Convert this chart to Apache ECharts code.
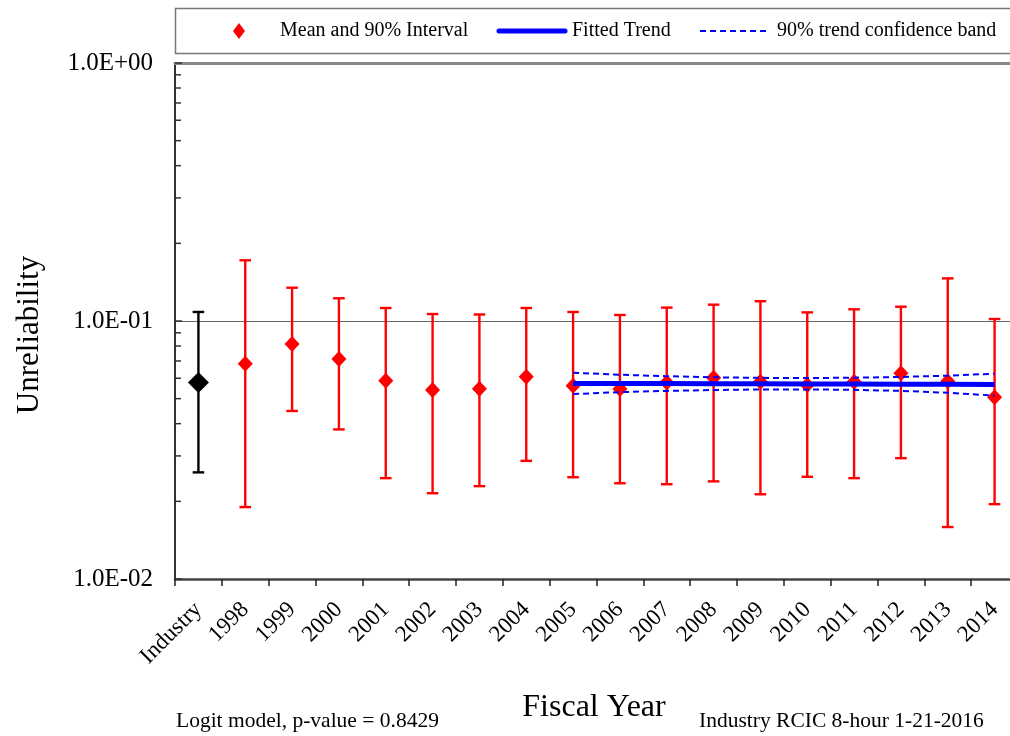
<!DOCTYPE html>
<html>
<head>
<meta charset="utf-8">
<script src="https://cdn.jsdelivr.net/npm/echarts@6.0.0/dist/echarts.min.js"></script>
<style>
  html, body { margin: 0; padding: 0; background: #fff; }
  #chart { width: 1010px; height: 736px; }
</style>
</head>
<body>
<div id="chart"></div>
<script>
// ---- Data ----
const categories = ['Industry', '1998', '1999', '2000', '2001', '2002', '2003', '2004', '2005',
  '2006', '2007', '2008', '2009', '2010', '2011', '2012', '2013', '2014'];
const means = [0.0577, 0.0683, 0.0815, 0.0713, 0.0587, 0.0540, 0.0546, 0.0608, 0.0561,
  0.0545, 0.0577, 0.0603, 0.0582, 0.0565, 0.0582, 0.0627, 0.0584, 0.0506];
const lower = [0.0259, 0.0190, 0.0448, 0.0380, 0.0246, 0.0215, 0.0229, 0.0287, 0.0248,
  0.0235, 0.0233, 0.0239, 0.0213, 0.0249, 0.0246, 0.0294, 0.0159, 0.0195];
const upper = [0.1084, 0.1719, 0.1346, 0.1225, 0.1123, 0.1064, 0.1060, 0.1123, 0.1084,
  0.1055, 0.1127, 0.1157, 0.1193, 0.1080, 0.1110, 0.1136, 0.1463, 0.1018];
const trendYears = ['2005', '2006', '2007', '2008', '2009', '2010', '2011', '2012', '2013', '2014'];
const fitted = [0.0573, 0.0572, 0.0572, 0.0571, 0.0571, 0.0570, 0.0570, 0.0569, 0.0569, 0.0568];
const bandUpper = [0.0630, 0.0619, 0.0611, 0.0605, 0.0602, 0.0601, 0.0603, 0.0607, 0.0614, 0.0625];
const bandLower = [0.0521, 0.0530, 0.0536, 0.0540, 0.0543, 0.0543, 0.0541, 0.0536, 0.0527, 0.0514];
const yTicks = [0.01, 0.1, 1];
const yTickLabels = ['1.0E-02', '1.0E-01', '1.0E+00'];
const yMinorTicks = [0.02, 0.03, 0.04, 0.05, 0.06, 0.07, 0.08, 0.09,
  0.2, 0.3, 0.4, 0.5, 0.6, 0.7, 0.8, 0.9];
const legendLabels = ['Mean and 90% Interval', 'Fitted Trend', '90% trend confidence band'];

// ---- Chart ----
const FONT = 'Liberation Serif';
const chart = echarts.init(document.getElementById('chart'), null, { renderer: 'canvas' });

function errRender(color) {
  return function (params, api) {
    const idx = api.value(0);
    const lo = api.coord([idx, api.value(1)]);
    const hi = api.coord([idx, api.value(2)]);
    const hw = 5.8;
    const st = { stroke: color, lineWidth: 2.4 };
    return {
      type: 'group',
      children: [
        { type: 'line', shape: { x1: lo[0], y1: lo[1], x2: hi[0], y2: hi[1] }, style: st },
        { type: 'line', shape: { x1: lo[0] - hw, y1: lo[1], x2: lo[0] + hw, y2: lo[1] }, style: st },
        { type: 'line', shape: { x1: hi[0] - hw, y1: hi[1], x2: hi[0] + hw, y2: hi[1] }, style: st }
      ]
    };
  };
}

const errRows = categories.map((c, i) => [i, lower[i], upper[i]]);

const option = {
  animation: false,
  backgroundColor: '#fff',
  grid: { left: 175, top: 63, width: 843, height: 516, containLabel: false, outerBoundsMode: 'none' },
  xAxis: [{
    type: 'category',
    data: categories,
    position: 'bottom',
    axisLine: { lineStyle: { color: '#444', width: 2.5 } },
    axisTick: { show: true, inside: false, length: 7, alignWithLabel: false, interval: 0,
      lineStyle: { color: '#222', width: 1.5 } },
    axisLabel: { interval: 0, rotate: 45, margin: 27, fontFamily: FONT, fontSize: 23, color: '#000' },
    splitLine: { show: false }
  }, {
    type: 'category',
    data: categories,
    position: 'top',
    axisLine: { lineStyle: { color: '#888', width: 3 } },
    axisTick: { show: false },
    axisLabel: { show: false }
  }],
  yAxis: {
    type: 'log',
    logBase: 10,
    min: 0.01,
    max: 1,
    axisLine: { show: true, lineStyle: { color: '#333', width: 2 } },
    axisTick: { show: true, inside: true, length: 7, lineStyle: { color: '#333', width: 1.5 } },
    axisLabel: {
      margin: 22, fontFamily: FONT, fontSize: 25, color: '#000',
      formatter: function (v) {
        const k = yTicks.findIndex(t => Math.abs(Math.log10(t) - Math.log10(v)) < 1e-6);
        return k >= 0 ? yTickLabels[k] : '';
      }
    },
    splitLine: { show: true, lineStyle: { color: '#666', width: 1 } }
  },
  series: [
    {
      name: 'minorTicks',
      type: 'custom',
      silent: true,
      clip: false,
      data: yMinorTicks.map(v => [0, v]),
      renderItem: function (params, api) {
        const p = api.coord([0, api.value(1)]);
        const x0 = params.coordSys.x;
        return { type: 'line', shape: { x1: x0, y1: p[1], x2: x0 + 6, y2: p[1] },
          style: { stroke: '#333', lineWidth: 1.5 } };
      },
      z: 5
    },
    {
      name: 'errBlack', type: 'custom', silent: true,
      data: errRows.slice(0, 1),
      encode: { x: 0, y: [1, 2] },
      renderItem: errRender('#000'),
      z: 2
    },
    {
      name: 'errRed', type: 'custom', silent: true,
      data: errRows.slice(1),
      encode: { x: 0, y: [1, 2] },
      renderItem: errRender('#ff0000'),
      z: 2
    },
    {
      name: 'Industry', type: 'scatter',
      symbol: 'diamond', symbolSize: [21, 21],
      itemStyle: { color: '#000', opacity: 1 },
      data: [[categories[0], means[0]]],
      z: 3
    },
    {
      name: legendLabels[0], type: 'scatter',
      symbol: 'diamond', symbolSize: [15, 16],
      itemStyle: { color: '#ff0000', opacity: 1 },
      data: categories.slice(1).map((c, i) => [c, means[i + 1]]),
      z: 3
    },
    {
      name: legendLabels[1], type: 'line',
      symbol: 'none', showSymbol: false,
      lineStyle: { color: '#0000ff', width: 5 },
      itemStyle: { color: '#0000ff' },
      data: trendYears.map((y, i) => [y, fitted[i]]),
      z: 4
    },
    {
      name: legendLabels[2], type: 'line',
      symbol: 'none', showSymbol: false,
      lineStyle: { color: '#0000ff', width: 2, type: [6, 4] },
      itemStyle: { color: '#0000ff' },
      data: trendYears.map((y, i) => [y, bandUpper[i]]),
      z: 4
    },
    {
      name: legendLabels[2], type: 'line',
      symbol: 'none', showSymbol: false,
      lineStyle: { color: '#0000ff', width: 2, type: [6, 4] },
      itemStyle: { color: '#0000ff' },
      data: trendYears.map((y, i) => [y, bandLower[i]]),
      z: 4
    }
  ],
  graphic: [
    {
      type: 'rect', z: 0, silent: true,
      shape: { x: 175.5, y: 8.5, width: 860, height: 45 },
      style: { fill: 'none', stroke: '#777', lineWidth: 1.5 }
    },
    // legend keys
    {
      type: 'polygon', silent: true,
      shape: { points: [[239, 23], [245, 31], [239, 39], [233, 31]] },
      style: { fill: '#ff0000' }
    },
    {
      type: 'text', x: 280, y: 31, silent: true,
      style: { text: legendLabels[0], font: '20px "Liberation Serif"', fill: '#000',
        align: 'left', verticalAlign: 'middle' }
    },
    {
      type: 'line', silent: true,
      shape: { x1: 499, y1: 31, x2: 565, y2: 31 },
      style: { stroke: '#0000ff', lineWidth: 5, lineCap: 'round' }
    },
    {
      type: 'text', x: 572, y: 31, silent: true,
      style: { text: legendLabels[1], font: '20px "Liberation Serif"', fill: '#000',
        align: 'left', verticalAlign: 'middle' }
    },
    {
      type: 'line', silent: true,
      shape: { x1: 700, y1: 31, x2: 770, y2: 31 },
      style: { stroke: '#0000ff', lineWidth: 2, lineDash: [6, 4] }
    },
    {
      type: 'text', x: 777, y: 31, silent: true,
      style: { text: legendLabels[2], font: '20px "Liberation Serif"', fill: '#000',
        align: 'left', verticalAlign: 'middle' }
    },
    {
      type: 'text', x: 30, y: 335, rotation: Math.PI / 2, silent: true,
      style: { text: 'Unreliability', font: '31px "Liberation Serif"', fill: '#000',
        align: 'center', verticalAlign: 'middle' }
    },
    {
      type: 'text', x: 594, y: 708, silent: true,
      style: { text: 'Fiscal Year', font: '32px "Liberation Serif"', fill: '#000',
        align: 'center', verticalAlign: 'middle' }
    },
    {
      type: 'text', x: 176, y: 721, silent: true,
      style: { text: 'Logit model, p-value = 0.8429', font: '21.5px "Liberation Serif"', fill: '#000',
        align: 'left', verticalAlign: 'middle' }
    },
    {
      type: 'text', x: 699, y: 721, silent: true,
      style: { text: 'Industry RCIC 8-hour 1-21-2016', font: '21.5px "Liberation Serif"', fill: '#000',
        align: 'left', verticalAlign: 'middle' }
    }
  ]
};

chart.setOption(option);
</script>
</body>
</html>
